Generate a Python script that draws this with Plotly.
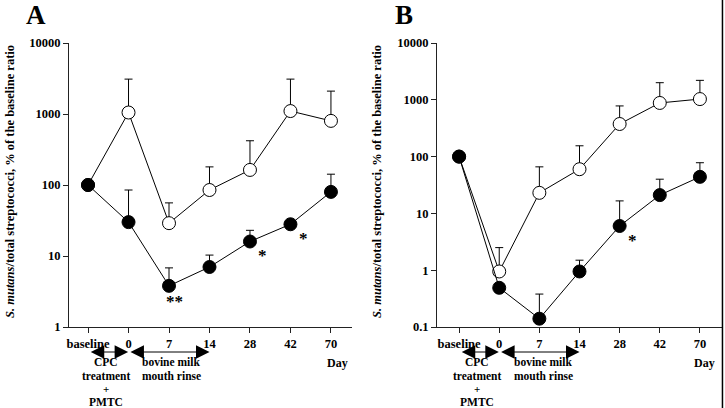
import math
import plotly.graph_objects as go

days = ["baseline", "0", "7", "14", "28", "42", "70"]
xpos = list(range(len(days)))

a_open = [100, 1050, 29, 85, 163, 1100, 800]
a_open_top = [None, 3100, 56, 180, 420, 3100, 2100]
a_filled = [100, 30, 3.8, 7.0, 16, 28, 80]
a_filled_top = [None, 85, 6.8, 10.3, 23, None, 142]

b_open = [100, 0.95, 23, 60, 375, 880, 1030]
b_open_top = [None, 2.5, 66, 155, 780, 2000, 2200]
b_filled = [100, 0.49, 0.14, 0.95, 6, 21, 44]
b_filled_top = [None, None, 0.38, 1.5, 16.6, 40, 78]

a_yticks = [1, 10, 100, 1000, 10000]
b_yticks = [0.1, 1, 10, 100, 1000, 10000]
b_yticklabels = ["0.1", "1", "10", "100", "1000", "10000"]

a_stars = [(2, "**"), (4, "*"), (5, "*")]
b_stars = [(4, "*")]

FONT = "Liberation Serif"


def plus(vals, tops):
    return [(t - v) if t is not None else 0 for v, t in zip(vals, tops)]


fig = go.Figure()


def add_series(vals, tops, xa, ya, filled):
    fig.add_trace(go.Scatter(
        x=xpos, y=vals, xaxis=xa, yaxis=ya, mode="lines+markers",
        line=dict(color="black", width=1),
        marker=dict(size=13, color="black" if filled else "white",
                    line=dict(color="black", width=1)),
        error_y=dict(type="data", array=plus(vals, tops), symmetric=False,
                     arrayminus=[0] * len(vals), color="black",
                     thickness=1, width=4),
        showlegend=False, cliponaxis=False,
    ))


add_series(a_open, a_open_top, "x", "y", False)
add_series(a_filled, a_filled_top, "x", "y", True)
add_series(b_open, b_open_top, "x2", "y2", False)
add_series(b_filled, b_filled_top, "x2", "y2", True)

H = 408.0
ydom = [1 - 327 / H, 1 - 43 / H]

axis_common = dict(showline=True, linecolor="#222", linewidth=1, showgrid=False,
                   zeroline=False, ticks="outside", ticklen=5, tickcolor="#222",
                   automargin=False,
                   tickfont=dict(family=FONT, size=12.5, color="black", weight="bold"))

fig.update_layout(
    template="none",
    width=725, height=408, margin=dict(l=0, r=0, t=0, b=0, pad=0),
    paper_bgcolor="white", plot_bgcolor="white",
    xaxis=dict(domain=[69 / 725, 352 / 725], range=[-0.47, 6.52],
               tickvals=xpos, ticktext=days, anchor="y", **axis_common),
    yaxis=dict(domain=ydom, type="log", range=[0, 4], tickvals=a_yticks,
               ticktext=[str(v) for v in a_yticks], anchor="x", **axis_common),
    xaxis2=dict(domain=[437 / 725, 722 / 725], range=[-0.55, 6.55],
                tickvals=xpos, ticktext=days, anchor="y2", **axis_common),
    yaxis2=dict(domain=ydom, type="log", range=[-1, 4], tickvals=b_yticks,
                ticktext=b_yticklabels, anchor="x2", **axis_common),
)

ann = []
C = dict(xanchor="center", yanchor="middle", showarrow=False, borderpad=0)
ytitle = "<b><i>S. mutans</i>/total streptococci, % of the baseline ratio</b>"
for xp in (10 / 725, 377 / 725):
    ann.append(dict(text=ytitle, x=xp, y=1 - 182 / H, xref="paper", yref="paper",
                    textangle=-90, font=dict(family=FONT, size=12.5, color="black"), **C))
ann.append(dict(text="<b>A</b>", x=36 / 725, y=1 - 15 / H, xref="paper", yref="paper",
                font=dict(family=FONT, size=27, color="black"), **C))
ann.append(dict(text="<b>B</b>", x=404 / 725, y=1 - 15 / H, xref="paper", yref="paper",
                font=dict(family=FONT, size=27, color="black"), **C))


def add_bottom(xa, cpc_x, milk_x, day_x):
    def txt(t, x, ypx, size=11.5):
        ann.append(dict(text="<b>%s</b>" % t, x=x, y=1 - ypx / H, xref=xa, yref="paper",
                        font=dict(family=FONT, size=size, color="black"), **C))
    txt("CPC", cpc_x, 362)
    txt("treatment", cpc_x, 375.5)
    txt("+", cpc_x, 388.8, 11)
    txt("PMTC", cpc_x, 401.8)
    txt("bovine milk", milk_x, 362)
    txt("mouth rinse", milk_x, 375.5)
    txt("Day", day_x, 363, 12)
    for x0, x1 in ((0.03, 0.99), (1.01, 3.0)):
        ann.append(dict(text="", x=x1, y=1 - 352 / H, xref=xa, yref="paper",
                        ax=x0, ay=0, axref=xa, ayref="pixel", showarrow=True,
                        arrowhead=2, arrowside="end+start", arrowsize=2.7,
                        arrowwidth=1, arrowcolor="black", standoff=0, startstandoff=0))


add_bottom("x", 0.45, 2.05, 6.15)
add_bottom("x2", 0.45, 2.1, 6.12)


def add_stars(stars, vals, xa, ya):
    for i, s in stars:
        ann.append(dict(text="<b>%s</b>" % s, x=i, y=math.log10(vals[i]), xref=xa, yref=ya,
                        xshift=5 if s == "**" else 13,
                        yshift=-16 if s == "**" else -14,
                        font=dict(family=FONT, size=17, color="black"), **C))


add_stars(a_stars, a_filled, "x", "y")
add_stars(b_stars, b_filled, "x2", "y2")

fig.update_layout(annotations=ann)
fig.add_shape(type="line", xref="paper", yref="paper", x0=0.9965, x1=0.9965, y0=0, y1=1,
              line=dict(color="black", width=1.5))

fig.write_html("out.html", config={"displayModeBar": False},
               post_script="document.body.style.margin='0';document.body.style.padding='0';")
